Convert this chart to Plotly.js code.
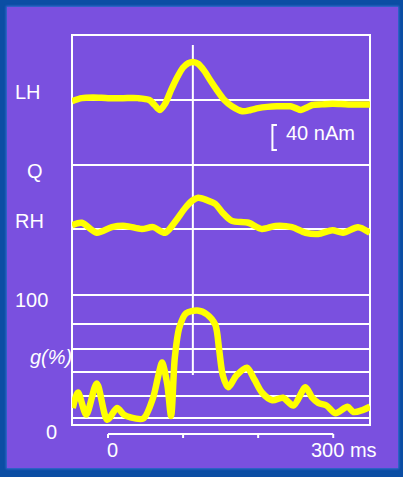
<!DOCTYPE html>
<html><head><meta charset="utf-8">
<script src="https://cdn.plot.ly/plotly-3.0.1.min.js"></script>
<style>
html,body{margin:0;padding:0;background:#0b4ea4;width:403px;height:477px;overflow:hidden}
#panel{position:absolute;left:7px;top:7px;width:391px;height:461px;background:#7a50df;box-shadow:0 0 2px 1px #3d6cd6}
#chart{position:absolute;left:0;top:0;width:403px;height:477px}
</style></head><body><div id="panel"></div><div id="chart"></div>
<script>
// ---- data (time in ms, LH/RH in nAm, g in %) ----
const timeLH = [-48,-35,-20,0,20,40,55,62,69,76,84,92,100,107,113,120,128,136,145,155,165,179,190,200,212,225,235,243,250,257,265,272,285,299,320,349];
const valueLH = [-2,3,4,3,3,3,0,-8,-16,-6,16,36,52,59,61,58,47,32,16,0,-10,-18,-16,-13,-11,-10,-10,-10,-13,-16,-12,-8,-7,-6,-7,-7];
const timeRH = [-48,-35,-15,5,23,45,60,76,89,103,113,120,132,143,152,165,187,205,223,245,263,280,299,313,333,349];
const valueRH = [6,10,-6,3,5,0,3,-6,11,34,46,50,46,40,27,13,10,0,5,3,-6,-8,-2,-6,3,-6];
const timeG = [-47,-40,-29,-15,-1,12,21,29,47,60,67,72,79,84,89,95,104,119,132,143,148,153,160,171,185,195,205,219,233,247,263,272,280,291,303,319,327,339,349];
const valueG = [13,25,8,32,4,13,8,6,5,21,38,48,31,7,52,75,86,88,85,77,58,38,29,38,44,35,25,19,21,15,29,21,17,15,9,14,10,11.5,14];
const gGridValues = [5.4, 22.3, 40.8, 58.5, 77.7];
const markerTime = 113;
const timeTicks = [0, 100, 200, 300];
const timeTickLabels = ['0', '300 ms'];
const timeTickLabelAt = [0, 300];
const rowLabels = ['LH', 'Q', 'RH', '100', 'g(%)', '0'];
const scaleBar = {value: 40, unit: 'nAm', label: '40 nAm'};

// ---- pixel helpers for layout placement ----
const L = 72, T = 35, W = 298, H = 390;
const px = x => (x - L) / W;
const py = y => (T + H - y) / H;

const white = '#ffffff';
const yellow = '#ffff00';
const font = {family: 'Liberation Sans, Arial, sans-serif', size: 20, color: white};

const lineStyle = {color: yellow, width: 6.5, shape: 'spline', smoothing: 0.8};
const traces = [
  {x: timeLH, y: valueLH, xaxis: 'x', yaxis: 'y3', mode: 'lines', line: lineStyle, hoverinfo: 'skip'},
  {x: timeRH, y: valueRH, xaxis: 'x', yaxis: 'y2', mode: 'lines', line: lineStyle, hoverinfo: 'skip'},
  {x: timeG, y: valueG, xaxis: 'x', yaxis: 'y', mode: 'lines', line: lineStyle, hoverinfo: 'skip'}
];

const wl = {color: white, width: 2};
const shapes = [
  {type: 'rect', xref: 'paper', yref: 'paper', x0: 0, x1: 1, y0: 0, y1: 1, line: wl, layer: 'below'},
  {type: 'line', xref: 'paper', yref: 'paper', x0: 0, x1: 1, y0: 1/3, y1: 1/3, line: wl, layer: 'below'},
  {type: 'line', xref: 'paper', yref: 'paper', x0: 0, x1: 1, y0: 2/3, y1: 2/3, line: wl, layer: 'below'},
  {type: 'line', xref: 'paper', yref: 'y3', x0: 0, x1: 1, y0: 0, y1: 0, line: wl, layer: 'below'},
  {type: 'line', xref: 'paper', yref: 'y2', x0: 0, x1: 1, y0: 0, y1: 0, line: wl, layer: 'below'},
  {type: 'line', xref: 'x', yref: 'paper', x0: markerTime, x1: markerTime, y0: py(375), y1: py(45), line: wl, layer: 'below'},
  // scale bar bracket
  {type: 'path', xref: 'x', yref: 'y3', path: 'M 225 -' + scaleBar.value + ' L 219 -' + scaleBar.value + ' L 219 -' + (2*scaleBar.value) + ' L 225 -' + (2*scaleBar.value), line: wl},
  // time bar
  {type: 'line', xref: 'x', yref: 'paper', x0: timeTicks[0], x1: timeTicks[timeTicks.length-1], y0: py(434), y1: py(434), line: wl}
];
gGridValues.forEach(v => shapes.push({type: 'line', xref: 'paper', yref: 'y', x0: 0, x1: 1, y0: v, y1: v, line: wl, layer: 'below'}));
timeTicks.forEach(t => shapes.push({type: 'line', xref: 'x', yref: 'paper', x0: t, x1: t, y0: py(434), y1: py(438), line: wl}));

const ann = (text, x, y, xa, extra) => Object.assign({text: text, x: x, y: y, xref: 'paper', yref: 'paper', xanchor: xa, yanchor: 'middle', showarrow: false, font: font}, extra || {});
const annotations = [
  ann(rowLabels[0], px(13), py(92), 'left'),
  ann(rowLabels[1], px(35), py(171), 'center'),
  ann(rowLabels[2], px(13), py(221), 'left'),
  ann(rowLabels[3], px(13), py(300), 'left'),
  ann('<i>' + rowLabels[4] + '</i>', px(74), py(357), 'right'),
  ann(rowLabels[5], px(51), py(432), 'center'),
  {text: scaleBar.label, x: 234, y: -53, xref: 'x', yref: 'y3', xanchor: 'left', yanchor: 'middle', showarrow: false, font: font},
  {text: timeTickLabels[0], x: timeTickLabelAt[0], y: py(450), xref: 'x', yref: 'paper', xanchor: 'center', xshift: 4, yanchor: 'middle', showarrow: false, font: font},
  {text: timeTickLabels[1], x: timeTickLabelAt[1], y: py(450), xref: 'x', yref: 'paper', xanchor: 'left', xshift: -24, yanchor: 'middle', showarrow: false, font: font}
];

const hidden = {showgrid: false, zeroline: false, showticklabels: false, showline: false, ticks: '', fixedrange: true};
const layout = {
  width: 403, height: 477,
  margin: {l: L, r: 403 - L - W, t: T, b: 477 - T - H, pad: 0},
  paper_bgcolor: 'rgba(0,0,0,0)', plot_bgcolor: 'rgba(0,0,0,0)',
  showlegend: false,
  xaxis: Object.assign({range: [-48, 349]}, hidden),
  yaxis: Object.assign({domain: [0, 1/3], range: [0, 100], anchor: 'x'}, hidden),
  yaxis2: Object.assign({domain: [1/3, 2/3], range: [-105.6, 102.4], anchor: 'x'}, hidden),
  yaxis3: Object.assign({domain: [2/3, 1], range: [-104, 104], anchor: 'x'}, hidden),
  shapes: shapes,
  annotations: annotations
};
Plotly.newPlot('chart', traces, layout, {staticPlot: true, displayModeBar: false});
</script></body></html>
